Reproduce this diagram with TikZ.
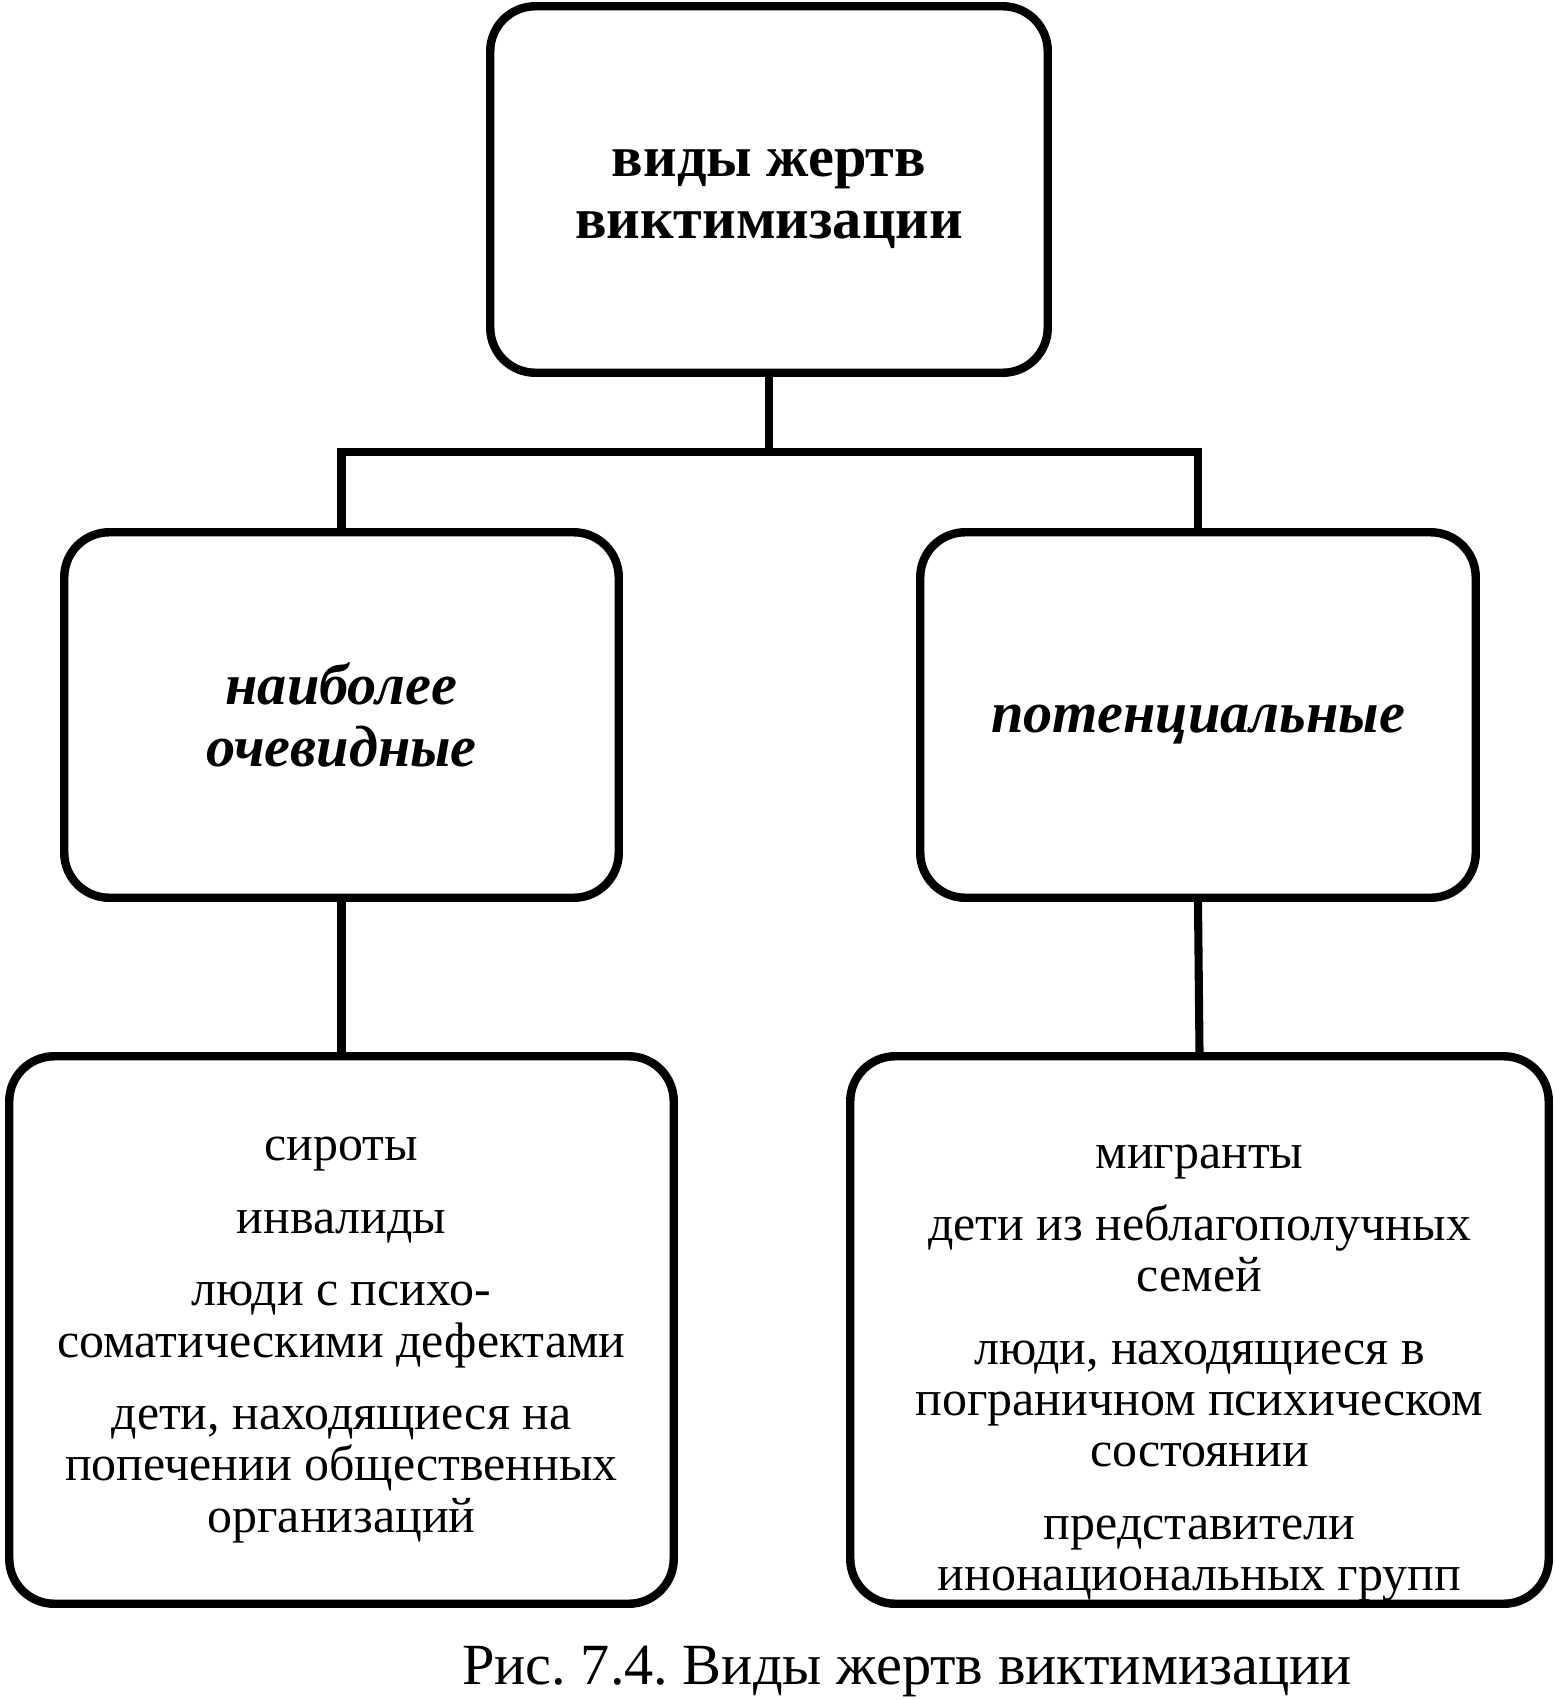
\documentclass[tikz,border=0pt]{standalone}
\usepackage{fontspec}
\setmainfont{Liberation Serif}
\usetikzlibrary{positioning}
\frenchspacing

\begin{document}
\begin{tikzpicture}[
kindbox/.style={
    draw,
    line width=2.4pt,
    rounded corners=0.45cm,
    inner sep=4pt
},
headtext/.style={font=\fontsize{16.6}{17.7}\selectfont\bfseries, align=center, inner sep=0pt},
grouptext/.style={font=\fontsize{16.6}{17.7}\selectfont\bfseries\itshape, align=center, inner sep=0pt},
listtext/.style={font=\fontsize{14.2}{14.6}\selectfont, align=center, inner sep=0pt},
link/.style={line width=2.3pt}
]
\useasboundingbox (0,0) rectangle (15.56,-17);

% boxes
\node[kindbox, minimum width=5.575cm, minimum height=3.665cm] (kinds) at (7.69,-1.895) {};
\node[kindbox, minimum width=5.545cm, minimum height=3.655cm] (obvious) at (3.415,-7.15) {};
\node[kindbox, minimum width=5.555cm, minimum height=3.655cm] (potential) at (11.98,-7.15) {};
\node[kindbox, minimum width=6.645cm, minimum height=5.475cm] (obviouslist) at (3.415,-13.30) {};
\node[kindbox, minimum width=6.985cm, minimum height=5.475cm] (potentiallist) at (11.995,-13.30) {};

% texts
\node[headtext, yshift=-0.9mm] (kindstext) at (kinds)
{виды жертв\\виктимизации};

\node[grouptext] (obvioustext) at (obvious)
{наиболее\\очевидные};

\node[grouptext, yshift=-1mm] (potentialtext) at (potential)
{потенциальные};

\node[listtext, yshift=-1mm] (obviousitems) at (obviouslist)
{сироты\\[6pt]
инвалиды\\[6pt]
люди с психо-\\соматическими дефектами\\[6pt]
дети, находящиеся на\\попечении общественных\\организаций};

\node[listtext, yshift=-4.3mm] (potentialitems) at (potentiallist)
{мигранты\\[6pt]
дети из неблагополучных\\семей\\[6pt]
люди, находящиеся в\\пограничном психическом\\состоянии\\[6pt]
представители\\инонациональных групп};

\node[anchor=base, font=\fontsize{16.6}{17.7}\selectfont] (caption) at (9.07,-16.84)
{Рис. 7.4. Виды жертв виктимизации};

% connectors
\coordinate (split) at (7.69,-4.52);
\draw[link] (kinds.south)--(split);
\draw[link] (obvious.north) |- (split) -| (potential.north);
\draw[link] (obvious.south)--(obviouslist.north);
\draw[link] (potential.south)--(potentiallist.north);

\end{tikzpicture}
\end{document}
